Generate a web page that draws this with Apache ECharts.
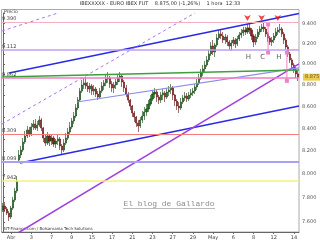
<!DOCTYPE html>
<html><head><meta charset="utf-8">
<script src="https://cdn.jsdelivr.net/npm/echarts@6/dist/echarts.min.js"></script>
<style>html,body{margin:0;padding:0;background:#fff}#c{width:320px;height:240px}</style>
</head><body><div id="c"></div>
<script>
// ---- data ----
const dayLabels = ['Abr','3','7','9','15','17','21','23','27','29','May','6','8','12','14'];
const firstLabelIdx = 4, labelStep = 10;
// [open, close, low, high] hourly candles
const ohlc = [
[7698,7731,7682,7756],[7731,7706,7682,7764],[7706,7673,7657,7723],[7673,7641,7608,7690],
[7641,7714,7624,7731],[7714,7781,7698,7806],[7781,7856,7764,7882],[7856,7941,7839,7983],
[8121,8165,8095,8209],[8165,8209,8139,8244],[8209,8279,8191,8315],[8279,8333,8262,8378],
[8333,8387,8315,8423],[8387,8351,8324,8414],[8351,8414,8333,8450],[8414,8441,8387,8477],
[8441,8405,8387,8486],[8405,8432,8378,8468],[8432,8477,8414,8513],[8477,8405,8378,8495],
[8405,8315,8279,8414],[8315,8270,8244,8351],[8270,8333,8253,8369],[8333,8288,8244,8351],
[8288,8315,8253,8342],[8315,8262,8235,8333],[8262,8288,8226,8306],[8288,8306,8253,8342],
[8306,8244,8209,8324],[8244,8209,8165,8262],[8209,8270,8191,8306],[8270,8315,8253,8360],
[8315,8369,8297,8405],[8369,8414,8351,8459],[8414,8468,8396,8495],[8468,8513,8441,8550],
[8513,8587,8495,8623],[8587,8660,8568,8688],[8660,8744,8642,8773],[8744,8801,8726,8848],
[8801,8820,8763,8867],[8820,8791,8763,8877],[8791,8763,8735,8829],[8763,8791,8726,8820],
[8791,8744,8707,8810],[8744,8763,8707,8801],[8763,8716,8688,8782],[8716,8688,8660,8744],
[8688,8744,8670,8773],[8744,8791,8726,8829],[8791,8820,8754,8848],[8820,8858,8791,8896],
[8858,8867,8820,8924],[8867,8810,8773,8886],[8810,8773,8735,8839],[8773,8801,8726,8829],
[8801,8829,8763,8858],[8829,8867,8801,8896],[8867,8886,8829,8924],[8886,8829,8782,8905],
[8829,8773,8735,8848],[8773,8716,8688,8801],[8716,8660,8633,8735],[8660,8605,8568,8670],
[8605,8541,8504,8614],[8541,8504,8459,8559],[8504,8450,8414,8513],[8450,8423,8369,8477],
[8423,8477,8405,8504],[8477,8513,8450,8559],[8513,8550,8477,8596],[8550,8577,8513,8623],
[8577,8623,8550,8660],[8623,8670,8605,8707],[8670,8716,8651,8754],[8716,8735,8679,8773],
[8735,8688,8642,8754],[8688,8660,8623,8707],[8660,8707,8633,8735],[8707,8726,8660,8763],
[8726,8688,8642,8744],[8688,8735,8670,8773],[8735,8754,8698,8791],[8754,8773,8716,8810],
[8773,8707,8660,8791],[8707,8651,8605,8716],[8651,8605,8568,8670],[8605,8587,8541,8642],
[8587,8642,8568,8679],[8642,8679,8623,8707],[8679,8698,8651,8735],[8698,8670,8642,8726],
[8670,8707,8651,8735],[8707,8726,8679,8763],[8726,8744,8698,8773],[8744,8782,8716,8810],
[8782,8820,8754,8858],[8820,8867,8801,8905],[8867,8915,8848,8953],[8915,8953,8886,8991],
[8953,8991,8924,9030],[8991,9040,8972,9078],[9040,9098,9020,9137],[9098,9176,9078,9215],
[9176,9117,9088,9235],[9117,9186,9069,9205],[9186,9255,9166,9295],[9255,9295,9235,9335],
[9295,9275,9245,9345],[9275,9235,9205,9315],[9235,9265,9196,9295],[9265,9215,9176,9285],
[9215,9176,9137,9235],[9176,9205,9127,9235],[9205,9235,9176,9265],[9235,9196,9156,9255],
[9196,9245,9176,9275],[9245,9285,9225,9315],[9285,9305,9255,9345],[9305,9335,9275,9365],
[9335,9315,9285,9365],[9315,9355,9295,9395],[9355,9335,9295,9405],[9335,9275,9235,9355],
[9275,9215,9166,9295],[9215,9265,9186,9295],[9265,9315,9245,9345],[9315,9345,9285,9375],
[9345,9365,9315,9395],[9365,9345,9315,9405],[9345,9295,9265,9365],[9295,9255,9215,9315],
[9255,9215,9186,9275],[9215,9235,9176,9265],[9235,9275,9205,9305],[9275,9315,9255,9355],
[9315,9335,9285,9365],[9335,9345,9305,9395],[9345,9295,9265,9365],[9295,9235,9196,9315],
[9235,9166,9137,9255],[9166,9098,9069,9186],[9098,9040,9011,9117],[9040,8991,8963,9059],
[8991,8943,8915,9011],[8943,8905,8867,8972],[8905,8875,8839,8934]
];
const priceTicks = [7600,7800,8000,8200,8400,8600,8800,9000,9200,9400];
const minorTicks = [7600,7700,7800,7900,8000,8100,8200,8300,8400,8500,8600,8700,8800,8900,9000,9100,9200,9300,9400,9500];
const priceRange = [7519, 9506];
const levels = [9390, 9112, 8862, 8309, 8099, 7942];
const levelLabels = ['9.390','9.112','8.862','8.309','8.099','7.942'];
// trend lines: [[index, price],[index, price]]
const trendLines = [
  [[3, 8915], [146.5, 9500]],      // canal superior
  [[8.4, 8095], [146.5, 8605]],    // canal inferior
  [[7.4, 7511], [146.5, 9001]],    // directriz alcista
  [[-0.5, 9325], [27.2, 9506]],    // paralela 1
  [[-0.5, 8441], [95, 9506]],      // paralela 2
  [[36.6, 8642], [146.5, 8963]],   // directriz media
  [[-0.5, 8877], [146.5, 8943]]    // soporte verde
];
const peakMarks = [[121, 9425], [128, 9425], [136, 9425]];
const patternLabels = ['H', 'C', 'H'];
const patternPts = [[121.5, 9069], [128.5, 9069], [136.5, 9069]];
const measureArrows = [[[131.2, 9390], [131.2, 9112]], [[140.5, 9112], [140.5, 8840]]];
const lastPrice = 8875;
const titleText = 'IBEXXXXX - EURO IBEX FUT    8.875,00 (-1,26%)    1 hora  12:33';

// ---- styles ----
const levelColors = ['#f6b0c4', '#c49cf0', '#f07cc0', '#f47c7c', '#a8a0f0', '#f4f07c'];
const levelWidths = [1, 1.5, 1.5, 1.2, 2, 1.5];
const trendStyles = [
  {color:'#2a2ae6', width:1.6}, {color:'#2a2ae6', width:1.6}, {color:'#a040e0', width:1.5},
  {color:'#b070e8', width:1, type:[3,3]}, {color:'#b070e8', width:1, type:[3,3]},
  {color:'#8c8ce8', width:1.2}, {color:'#3ca03c', width:1.6}
];

const L = Math.log;
const N = ohlc.length;
const cats = ohlc.map((_, i) => {
  const k = i - firstLabelIdx;
  return (k >= 0 && k % labelStep === 0 && k / labelStep < dayLabels.length) ? dayLabels[k / labelStep] : '';
});
const fmt = v => (Math.round(Math.exp(v)) / 1000).toFixed(3);

const series = [];
series.push({
  type: 'candlestick', xAxisIndex: 0, yAxisIndex: 0, barWidth: 1.6, z: 3,
  data: ohlc.map(r => r.map(L)),
  itemStyle: {color:'#1e6e1e', color0:'#a01414', borderColor:'#0e3e0e', borderColor0:'#5a0a0a', borderWidth:0.6},
  markLine: {
    silent: true, symbol: ['none','none'], animation: false,
    data: levels.map((p, i) => ({
      yAxis: L(p),
      lineStyle: {color: levelColors[i], width: levelWidths[i], type: 'solid'},
      label: {show: true, position: 'insideStartTop', formatter: levelLabels[i], fontSize: 5, color: '#444', distance: [0, 1], fontFamily: 'DejaVu Sans'}
    }))
  }
});
trendLines.forEach((tl, i) => {
  series.push({
    type: 'line', xAxisIndex: 1, yAxisIndex: 0, symbol: 'none', z: 4, silent: true,
    data: tl.map(pt => [pt[0], L(pt[1])]),
    lineStyle: trendStyles[i]
  });
});
measureArrows.forEach(a => {
  series.push({
    type: 'line', xAxisIndex: 1, yAxisIndex: 0, z: 4, silent: true,
    data: a.map(pt => [pt[0], L(pt[1])]),
    symbol: ['none', 'arrow'], symbolSize: [4, 4], showAllSymbol: true,
    lineStyle: {color: '#f080c8', width: 1}, itemStyle: {color: '#f080c8'}
  });
});
series.push({
  type: 'scatter', xAxisIndex: 1, yAxisIndex: 0, z: 6, silent: true,
  symbol: 'arrow', symbolRotate: 180, symbolSize: [5, 6],
  itemStyle: {color: '#e81818'},
  data: peakMarks.map(pt => [pt[0], L(pt[1])])
});
series.push({
  type: 'scatter', xAxisIndex: 1, yAxisIndex: 0, z: 6, silent: true, symbolSize: 0,
  data: patternPts.map((pt, i) => ({value: [pt[0], L(pt[1])], name: patternLabels[i]})),
  label: {show: true, position: 'inside', formatter: p => p.name, fontSize: 7, color: '#333', fontFamily: 'DejaVu Sans'}
});
// last price tag on the right axis
series.push({
  type: 'scatter', xAxisIndex: 1, yAxisIndex: 0, z: 7, silent: true, symbolSize: 0, clip: false,
  data: [[N - 0.5, L(lastPrice)]],
  label: {show: true, position: 'right', distance: 4, formatter: fmt(L(lastPrice)), fontSize: 5, color: '#333',
    backgroundColor: '#e8c020', padding: [1, 2], fontFamily: 'DejaVu Sans'}
});

const chart = echarts.init(document.getElementById('c'), null, {renderer: 'canvas'});
chart.setOption({
  animation: false,
  backgroundColor: '#fff',
  grid: {left: 2, right: 21, top: 13, bottom: 8, containLabel: false},
  xAxis: [{
    type: 'category', data: cats, boundaryGap: true,
    axisLine: {lineStyle: {color: '#666', width: 1}},
    axisTick: {show: true, alignWithLabel: true, length: 2, interval: (i, v) => v !== '', lineStyle: {color: '#666'}},
    axisLabel: {interval: (i, v) => v !== '', fontSize: 5, color: '#444', margin: 3, fontFamily: 'DejaVu Sans'},
    splitLine: {show: false}
  }, {
    type: 'value', min: -0.5, max: N - 0.5, show: false
  }],
  yAxis: [{
    type: 'value', position: 'right', min: L(priceRange[0]), max: L(priceRange[1]), scale: true,
    axisLine: {show: true, lineStyle: {color: '#666', width: 1}},
    axisTick: {show: true, length: 2, customValues: minorTicks.map(L), lineStyle: {color: '#666'}},
    axisLabel: {customValues: priceTicks.map(L), formatter: fmt, fontSize: 5, color: '#555', margin: 3, fontFamily: 'DejaVu Sans'},
    splitLine: {show: false}
  }],
  series: series,
  graphic: [
    {type: 'rect', shape: {x: 1.5, y: 9.5, width: 297.5, height: 222.5}, style: {fill: 'none', stroke: '#aaa', lineWidth: 1}, silent: true, z: 0},
    {type: 'text', x: 160, y: 4, style: {text: titleText, font: '5px "DejaVu Sans"', fill: '#333', textAlign: 'center', textVerticalAlign: 'middle'}},
    {type: 'text', x: 4, y: 11.5, style: {text: 'Precio', font: '4.5px "DejaVu Sans"', fill: '#333', textVerticalAlign: 'middle'}},
    {type: 'text', x: 169, y: 204, style: {text: 'El blog de Gallardo', font: '8px "Liberation Mono"', fill: '#8c8c8c', textAlign: 'center', textVerticalAlign: 'middle'}, z: 1},
    {type: 'line', shape: {x1: 123, y1: 208.5, x2: 215, y2: 208.5}, style: {stroke: '#a8a8a8', lineWidth: 0.8}, z: 1},
    {type: 'text', x: 3, y: 228.5, style: {text: 'BIT-Finance.com / Bolsamania Tech Solutions', font: '4px "DejaVu Sans"', fill: '#333', textVerticalAlign: 'middle'}}
  ]
});
</script></body></html>
